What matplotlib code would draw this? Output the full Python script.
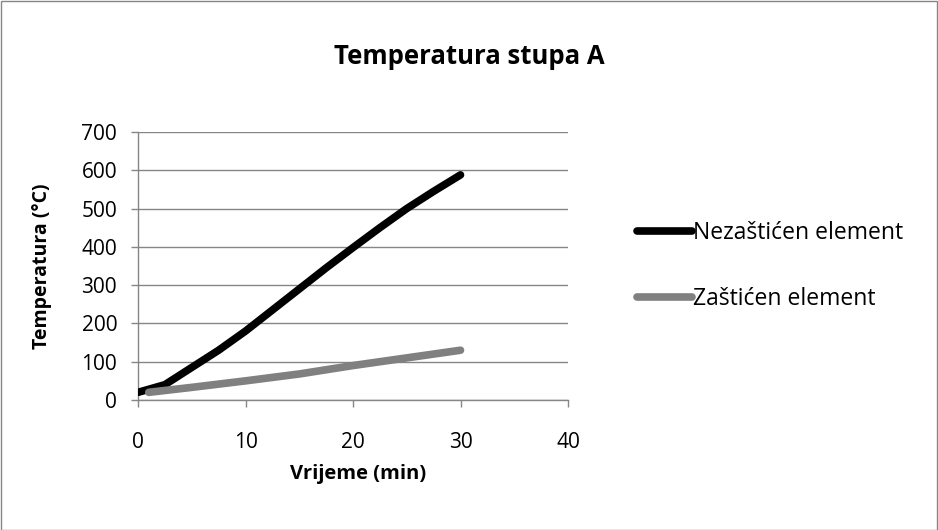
import matplotlib
matplotlib.use("Agg")
import matplotlib.pyplot as plt
from matplotlib.patches import Rectangle

# Data
t_unprot = [0, 2.5, 5, 7.5, 10, 12.5, 15, 17.5, 20, 22.5, 25, 27.5, 30]
temp_unprot = [20, 40, 85, 130, 180, 235, 290, 345, 398, 450, 500, 545, 588]
t_prot = [1, 5, 10, 15, 20, 25, 30]
temp_prot = [20, 33, 50, 68, 90, 110, 130]
series_names = ["Nezaštićen element", "Zaštićen element"]
title = "Temperatura stupa A"
xlabel = "Vrijeme (min)"
ylabel = "Temperatura (°C)"

plt.rcParams['font.family'] = ['Open Sans', 'DejaVu Sans']

W, H = 938, 530
fig = plt.figure(figsize=(W / 100, H / 100), dpi=100)
fig.patches.append(Rectangle((0.5 / W, 0.5 / H), 1 - 1.5 / W, 1 - 1.5 / H, transform=fig.transFigure,
                             fill=False, edgecolor='#868686', linewidth=1))

left, right, top, bottom = 138, 568, 132, 400
ax = fig.add_axes([left / W, 1 - bottom / H, (right - left) / W, (bottom - top) / H])

ax.plot(t_unprot, temp_unprot, color='black', linewidth=5.5, solid_capstyle='round', label=series_names[0], zorder=3)
ax.plot(t_prot, temp_prot, color='#808080', linewidth=5.5, solid_capstyle='round', label=series_names[1], zorder=3)

ax.set_xlim(0, 40)
ax.set_ylim(0, 700)
ax.set_xticks(range(0, 41, 10))
ax.set_yticks(range(0, 701, 100))
ax.grid(axis='y', color='#868686', linewidth=1)
ax.set_axisbelow(True)
for s in ['top', 'right']:
    ax.spines[s].set_visible(False)
for s in ['left', 'bottom']:
    ax.spines[s].set_color('#868686')
    ax.spines[s].set_linewidth(1)
ax.tick_params(axis='both', colors='#868686', labelcolor='black', labelsize=15, length=5, width=1)
ax.tick_params(axis='x', pad=18)
ax.tick_params(axis='y', pad=10)

fig.text(469 / W, 1 - 57 / H, title, ha='center', va='center', fontsize=18.5, fontweight='bold')
fig.text(358 / W, 1 - 474 / H, xlabel, ha='center', va='center', fontsize=14.5, fontweight='bold')
fig.text(42 / W, 1 - 266 / H, ylabel, ha='center', va='center', fontsize=14, fontweight='bold', rotation=90)

leg = ax.legend(loc='center left', bbox_to_anchor=(637 / W, 1 - 266 / H), bbox_transform=fig.transFigure,
                frameon=False, fontsize=16.5, handlelength=2.4, handletextpad=0.05, labelspacing=1.85,
                borderpad=0, borderaxespad=0)

fig.savefig("out.png", dpi=100)
